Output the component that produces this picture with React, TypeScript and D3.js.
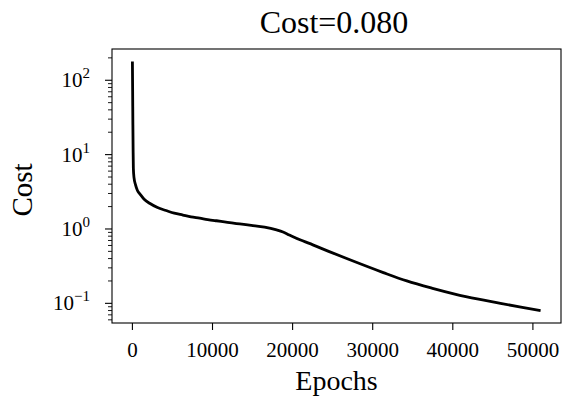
import React from "react";
import * as d3 from "d3";

const epochs = [0, 30, 60, 90, 120, 200, 400, 627, 1000, 1466, 2200, 3133, 4200, 5225, 6300, 7318, 8400, 9398, 10500, 11490, 13400, 14836, 16500, 18000, 18800, 19600, 21000, 22000, 24500, 27150, 31325, 34257, 37590, 41770, 45950, 48500, 50960];
const costs = [179, 70, 25, 11, 6.5, 4.9, 3.9, 3.3, 2.9, 2.51, 2.2, 1.94, 1.77, 1.63, 1.54, 1.46, 1.40, 1.34, 1.29, 1.25, 1.17, 1.12, 1.06, 0.97, 0.91, 0.83, 0.71, 0.645, 0.5, 0.385, 0.259, 0.2, 0.158, 0.122, 0.1, 0.089, 0.08];
const xTicks = [0, 10000, 20000, 30000, 40000, 50000];
const yExponents = [-1, 0, 1, 2];
const title = "Cost=0.080";
const xLabel = "Epochs";
const yLabel = "Cost";

const W = 563, H = 403;
const L = 112, R = 561, T = 49, B = 323;
const FONT = "'Liberation Serif', 'DejaVu Serif', serif";

export default function App() {
  const xMin = d3.min(epochs)!, xMax = d3.max(epochs)!;
  const xPad = (xMax - xMin) * 0.05;
  const x = d3.scaleLinear().domain([xMin - xPad, xMax + xPad]).range([L, R]);
  const lMin = Math.log10(d3.min(costs)!), lMax = Math.log10(d3.max(costs)!);
  const lPad = (lMax - lMin) * 0.05;
  const y = d3.scaleLog().domain([Math.pow(10, lMin - lPad), Math.pow(10, lMax + lPad)]).range([B, T]);

  const pts = epochs.map((e, i) => [e, costs[i]] as [number, number]);
  const line = d3.line<[number, number]>().x(d => x(d[0])).y(d => y(d[1])).curve(d3.curveMonotoneX);

  const [d0, d1] = y.domain();
  const minor: number[] = [];
  for (let k = Math.floor(Math.log10(d0)); k <= Math.ceil(Math.log10(d1)); k++) {
    for (let m = 2; m <= 9; m++) {
      const v = m * Math.pow(10, k);
      if (v >= d0 && v <= d1) minor.push(v);
    }
  }

  return (
    <svg width={W} height={H} style={{ position: "absolute", left: 0, top: 0, background: "#fff" }} fontFamily={FONT}>
      <rect x={0} y={0} width={W} height={H} fill="#fff" />
      <path d={line(pts) || ""} fill="none" stroke="#000" strokeWidth={2.8} strokeLinejoin="round" strokeLinecap="butt" />
      <rect x={L} y={T} width={R - L} height={B - T} fill="none" stroke="#000" strokeWidth={1.1} />
      {xTicks.map(t => (
        <g key={t}>
          <line x1={x(t)} x2={x(t)} y1={B} y2={B + 7} stroke="#000" strokeWidth={1.1} />
          <text x={x(t)} y={357} textAnchor="middle" fontSize={21} fill="#000">{t}</text>
        </g>
      ))}
      {minor.map(v => (
        <line key={v} x1={L - 4} x2={L} y1={y(v)} y2={y(v)} stroke="#000" strokeWidth={0.9} />
      ))}
      {yExponents.map(k => (
        <g key={k}>
          <line x1={L - 7} x2={L} y1={y(Math.pow(10, k))} y2={y(Math.pow(10, k))} stroke="#000" strokeWidth={1.1} />
          <text x={90} y={y(Math.pow(10, k)) + 7} textAnchor="end" fontSize={21} fill="#000">
            10<tspan fontSize={15} dy={-9}>{k < 0 ? "\u2212" + Math.abs(k) : String(k)}</tspan>
          </text>
        </g>
      ))}
      <text x={(L + R) / 2} y={390} textAnchor="middle" fontSize={28} fill="#000">{xLabel}</text>
      <text transform={`translate(32,190) rotate(-90)`} textAnchor="middle" fontSize={29} fill="#000">{yLabel}</text>
      <text x={334} y={33} textAnchor="middle" fontSize={32} fill="#000">{title}</text>
    </svg>
  );
}
